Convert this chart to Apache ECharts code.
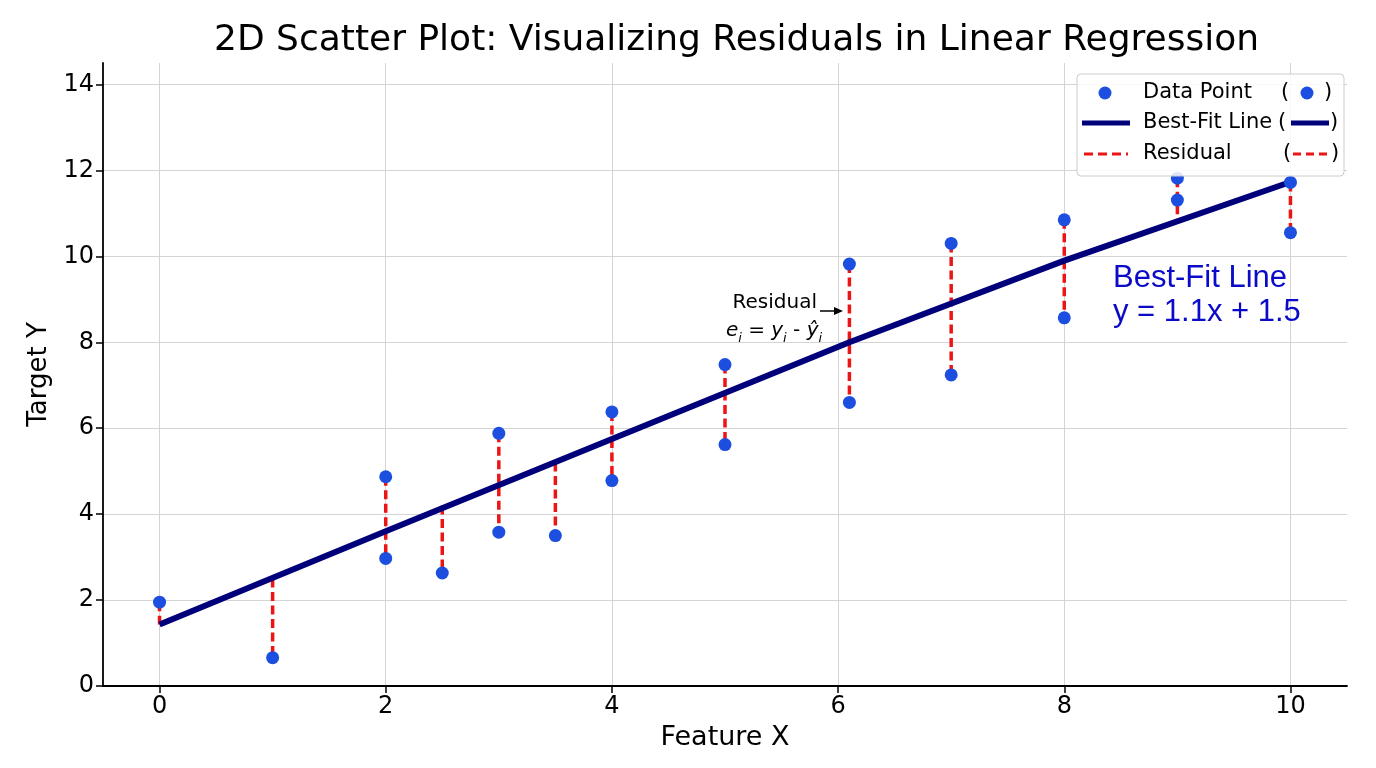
<!DOCTYPE html>
<html>
<head>
<meta charset="utf-8">
<script src="https://cdn.jsdelivr.net/npm/echarts@6/dist/echarts.min.js"></script>
<style>
    html, body { margin: 0; padding: 0; background: #fff; }
    #chart { width: 1376px; height: 768px; }
</style>
</head>
<body>
<div id="chart"></div>
<script>
// 数据点
var pointX = [0, 1, 2, 2, 2.5, 3, 3, 3.5, 4, 4, 5, 5, 6.1, 6.1, 7, 7, 8, 8, 9, 9, 10, 10];
var pointY = [1.95, 0.66, 4.87, 2.97, 2.63, 5.88, 3.58, 3.5, 6.38, 4.78, 7.48, 5.62, 9.82, 6.6, 10.3, 7.24, 10.85, 8.57, 11.82, 11.31, 11.72, 10.55];

// 拟合线 (as drawn in the picture)
var fitX = [0, 2, 4, 6.1, 8, 10];
var fitY = [1.43, 3.6, 5.75, 8.0, 9.9, 11.73];

// 残差线段
var residX = [0, 1, 2, 2.5, 3, 3.5, 4, 5, 6.1, 7, 8, 9, 10];
var residLow = [1.43, 0.66, 2.97, 2.63, 3.58, 3.5, 4.78, 5.62, 6.6, 7.24, 8.57, 10.85, 10.55];
var residHigh = [1.95, 2.5, 4.87, 4.2, 5.88, 5.2, 6.38, 7.48, 9.82, 10.3, 10.85, 11.82, 11.72];

// 刻度
var xTicks = [0, 2, 4, 6, 8, 10];
var yTicks = [0, 2, 4, 6, 8, 10, 12, 14];

var pointData = pointX.map(function (x, i) { return [x, pointY[i]]; });
var fitData = fitX.map(function (x, i) { return [x, fitY[i]]; });
var residData = residX.map(function (x, i) { return [x, residLow[i], residHigh[i]]; });

var blue = '#1c4fe0';
var navy = '#00007a';
var red = '#ec1515';
var font = 'DejaVu Sans';
var legendFont = '21px DejaVu Sans';

var chart = echarts.init(document.getElementById('chart'));
var option = {
    backgroundColor: '#ffffff',
    animation: false,
    title: {
        text: '2D Scatter Plot: Visualizing Residuals in Linear Regression',
        left: 209,
        top: 18,
        textStyle: {
            fontFamily: font,
            fontSize: 36,
            fontWeight: 'normal',
            color: '#000'
        }
    },
    grid: {
        left: 103,
        right: 29,
        top: 63,
        bottom: 82
    },
    xAxis: {
        type: 'value',
        min: -0.5,
        max: 10.5,
        name: 'Feature X',
        nameLocation: 'middle',
        nameGap: 38,
        nameTextStyle: { fontFamily: font, fontSize: 27, color: '#000' },
        axisLine: { onZero: false, lineStyle: { color: '#000', width: 1.8 } },
        axisTick: { show: true, length: 7, lineStyle: { color: '#000', width: 1.5 }, customValues: xTicks },
        axisLabel: { fontFamily: font, fontSize: 24, color: '#000', margin: 9, customValues: xTicks },
        splitLine: { show: true, lineStyle: { color: '#d4d4d4', width: 1 } }
    },
    yAxis: {
        type: 'value',
        min: 0,
        max: 14.5,
        name: 'Target Y',
        nameLocation: 'middle',
        nameGap: 48,
        nameTextStyle: { fontFamily: font, fontSize: 26, color: '#000' },
        axisLine: { show: true, onZero: false, lineStyle: { color: '#000', width: 1.8 } },
        axisTick: { show: true, length: 7, lineStyle: { color: '#000', width: 1.5 }, customValues: yTicks },
        axisLabel: { fontFamily: font, fontSize: 24, color: '#000', margin: 9, customValues: yTicks },
        splitLine: { show: true, lineStyle: { color: '#d4d4d4', width: 1 } }
    },
    series: [
        {
            name: 'Residual',
            type: 'custom',
            z: 2,
            encode: { x: 0, y: [1, 2] },
            renderItem: function (params, api) {
                var p1 = api.coord([api.value(0), api.value(2)]);
                var p2 = api.coord([api.value(0), api.value(1)]);
                return {
                    type: 'line',
                    shape: { x1: p1[0], y1: p1[1], x2: p2[0], y2: p2[1] },
                    style: { stroke: red, lineWidth: 3.5, lineDash: [9, 4.5] }
                };
            },
            data: residData
        },
        {
            name: 'Best-Fit Line',
            type: 'line',
            z: 3,
            symbol: 'none',
            lineStyle: { color: navy, width: 6 },
            data: fitData
        },
        {
            name: 'Data Point',
            type: 'scatter',
            z: 4,
            symbolSize: 13,
            itemStyle: { color: blue, opacity: 1 },
            data: pointData
        }
    ],
    graphic: [
        // 注释
        {
            type: 'text', x: 817, y: 303, z: 10,
            style: { text: 'Residual', font: '20px DejaVu Sans', fill: '#000', align: 'right', verticalAlign: 'middle' }
        },
        {
            type: 'line', z: 10,
            shape: { x1: 820, y1: 311, x2: 836, y2: 311 },
            style: { stroke: '#000', lineWidth: 1.5 }
        },
        {
            type: 'polygon', z: 10,
            shape: { points: [[843, 311], [834, 307], [834, 315]] },
            style: { fill: '#000' }
        },
        {
            type: 'text', x: 774, y: 331, z: 10,
            style: {
                text: '{it|e}{sub|i}{n| = }{it|y}{sub|i}{n| - }{it|ŷ}{sub|i}',
                align: 'center',
                verticalAlign: 'middle',
                rich: {
                    it: { fontFamily: font, fontStyle: 'italic', fontSize: 20, lineHeight: 28, color: '#000' },
                    n: { fontFamily: font, fontSize: 20, lineHeight: 28, color: '#000' },
                    sub: { fontFamily: font, fontStyle: 'italic', fontSize: 13, lineHeight: 28, verticalAlign: 'bottom', color: '#000' }
                }
            }
        },
        {
            type: 'text', x: 1113, y: 261, z: 10,
            style: {
                text: 'Best-Fit Line\ny = 1.1x + 1.5',
                font: '31px Liberation Sans',
                lineHeight: 34,
                fill: '#0a0ac8'
            }
        },
        // 图例
        {
            type: 'rect', z: 20,
            shape: { x: 1077, y: 74, width: 267, height: 102, r: 4 },
            style: { fill: 'rgba(255,255,255,0.85)', stroke: '#cccccc', lineWidth: 1 }
        },
        { type: 'circle', z: 21, shape: { cx: 1105, cy: 93, r: 6.5 }, style: { fill: blue } },
        { type: 'text', z: 21, x: 1143, y: 93, style: { text: 'Data Point', font: legendFont, fill: '#000', verticalAlign: 'middle' } },
        { type: 'text', z: 21, x: 1281, y: 93, style: { text: '(', font: legendFont, fill: '#000', verticalAlign: 'middle' } },
        { type: 'circle', z: 21, shape: { cx: 1307, cy: 93, r: 6.5 }, style: { fill: blue } },
        { type: 'text', z: 21, x: 1324, y: 93, style: { text: ')', font: legendFont, fill: '#000', verticalAlign: 'middle' } },

        { type: 'line', z: 21, shape: { x1: 1082, y1: 123, x2: 1130, y2: 123 }, style: { stroke: navy, lineWidth: 5 } },
        { type: 'text', z: 21, x: 1143, y: 123, style: { text: 'Best-Fit Line', font: legendFont, fill: '#000', verticalAlign: 'middle' } },
        { type: 'text', z: 21, x: 1278, y: 123, style: { text: '(', font: legendFont, fill: '#000', verticalAlign: 'middle' } },
        { type: 'line', z: 21, shape: { x1: 1291, y1: 123, x2: 1329, y2: 123 }, style: { stroke: navy, lineWidth: 5 } },
        { type: 'text', z: 21, x: 1330, y: 123, style: { text: ')', font: legendFont, fill: '#000', verticalAlign: 'middle' } },

        { type: 'line', z: 21, shape: { x1: 1084, y1: 154, x2: 1128, y2: 154 }, style: { stroke: red, lineWidth: 3, lineDash: [9, 5] } },
        { type: 'text', z: 21, x: 1143, y: 154, style: { text: 'Residual', font: legendFont, fill: '#000', verticalAlign: 'middle' } },
        { type: 'text', z: 21, x: 1283, y: 154, style: { text: '(', font: legendFont, fill: '#000', verticalAlign: 'middle' } },
        { type: 'line', z: 21, shape: { x1: 1293, y1: 154, x2: 1328, y2: 154 }, style: { stroke: red, lineWidth: 3, lineDash: [8, 5] } },
        { type: 'text', z: 21, x: 1331, y: 154, style: { text: ')', font: legendFont, fill: '#000', verticalAlign: 'middle' } }
    ]
};
chart.setOption(option);
</script>
</body>
</html>
